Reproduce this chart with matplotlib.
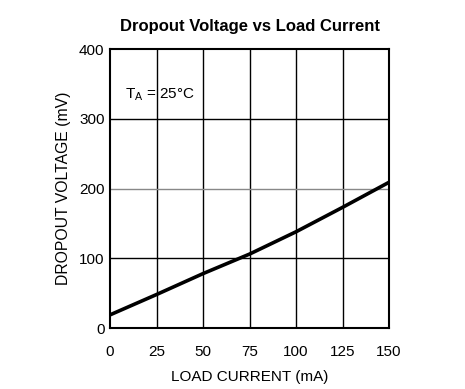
import matplotlib
matplotlib.use("Agg")
import matplotlib.pyplot as plt

load_current = [1, 25, 50, 75, 100, 125, 150]
dropout_mv = [20, 48, 78, 106, 138, 173, 209]
x_ticks = [0, 25, 50, 75, 100, 125, 150]
y_ticks = [0, 100, 200, 300, 400]

plt.rcParams['font.family'] = ['Liberation Sans', 'DejaVu Sans']

fig = plt.figure(figsize=(4.65, 3.89), dpi=100)
ax = fig.add_axes([0.2366, 0.1568, 0.6, 0.717])

# grid: vertical lines black, the 200 line is a faint grey
for xv in x_ticks[1:-1]:
    ax.axvline(xv, color='black', lw=1.0, zorder=1)
for yv in y_ticks[1:-1]:
    col = '#888888' if yv == 200 else 'black'
    ax.axhline(yv, color=col, lw=1.0, zorder=1)

ax.plot(load_current, dropout_mv, color='black', lw=2.6, zorder=3)

ax.set_xlim(0, 150)
ax.set_ylim(0, 400)
ax.set_xticks(x_ticks)
ax.set_yticks(y_ticks)
ax.tick_params(axis='both', labelsize=11, length=0)
ax.tick_params(axis='x', pad=12)
ax.tick_params(axis='y', pad=4)
for s in ax.spines.values():
    s.set_linewidth(1.5)

ax.set_xlabel('LOAD CURRENT (mA)', fontsize=11, labelpad=8)
ax.set_ylabel('DROPOUT VOLTAGE (mV)', fontsize=11.3, labelpad=6)
ax.set_title('Dropout Voltage vs Load Current', fontsize=12, fontweight='bold', pad=13)
ax.text(8, 335, r'T$_\mathregular{A}$ = 25°C', fontsize=11, ha='left', va='center')

fig.savefig('out.png', dpi=100)
